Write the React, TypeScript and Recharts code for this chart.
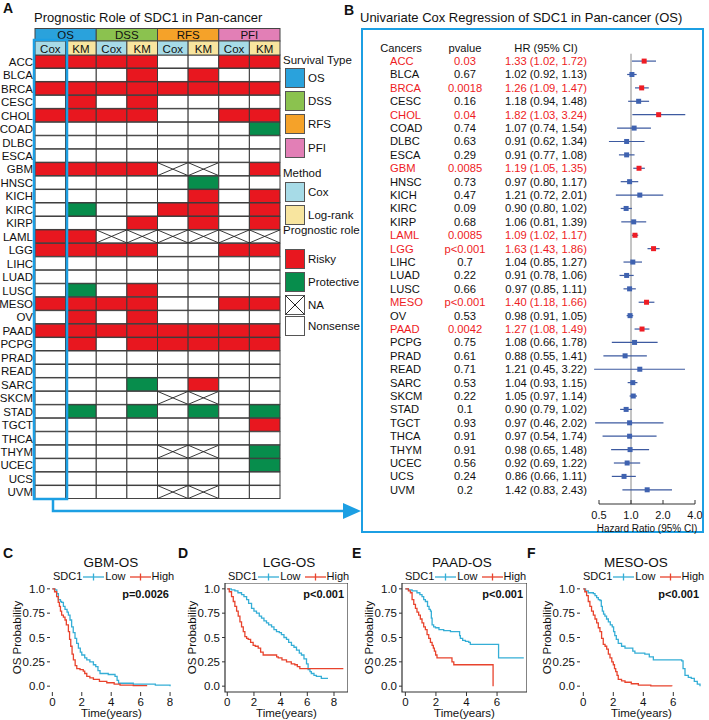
import React from "react";
import {
  BarChart,
  Bar,
  XAxis,
  YAxis,
  ScatterChart,
  Scatter,
  ErrorBar,
  ReferenceLine,
  LineChart,
  Line,
  ReferenceArea,
} from "recharts";

const FONT = '"Liberation Sans", Arial, Helvetica, sans-serif';
const RED = "#e8171f";
const GREEN = "#078d4c";
const BLUE_FRAME = "#1c9fe3";
const KM_LOW = "#35aed6";
const KM_HIGH = "#e8432d";

// ---------- Panel A: prognostic role heatmap ----------
const cancers = [
  "ACC", "BLCA", "BRCA", "CESC", "CHOL", "COAD", "DLBC", "ESCA", "GBM", "HNSC", "KICH",
  "KIRC", "KIRP", "LAML", "LGG", "LIHC", "LUAD", "LUSC", "MESO", "OV", "PAAD", "PCPG",
  "PRAD", "READ", "SARC", "SKCM", "STAD", "TGCT", "THCA", "THYM", "UCEC", "UCS", "UVM",
];
// column order: OS Cox, OS KM, DSS Cox, DSS KM, RFS Cox, RFS KM, PFI Cox, PFI KM
// R = risky, P = protective, N = NA, 0 = nonsense
const roles = [
  "RRRR00RR", "000R0R00", "RRRRRRRR", "0R0R0000", "RRRR00RR", "0000000P", "00000000",
  "00000000", "RRRRNN0R", "00000P00", "00000R0R", "0P00RR0R", "000R0R0R", "RRNNNNNN",
  "RRRR00RR", "00000000", "00000000", "0P0R0000", "RRRR00RR", "0R0R0000", "RRRRRRRR",
  "0R0RRRRR", "00000000", "00000000", "000P0R00", "0000NN00", "0P0P0P0P", "0000000R",
  "00000000", "0000NN0P", "0000000P", "00000000", "0000NN00",
];
const survivalTypes = ["OS", "DSS", "RFS", "PFI"];
const survivalColors = ["#2aa2dc", "#8bc24f", "#f5a229", "#e27fb6"];
const methods = ["Cox", "KM"];
const methodColors = ["#a7dbe7", "#f8e59f"];
const columnTicks = [0.5, 1.5, 2.5, 3.5, 4.5, 5.5, 6.5, 7.5];

// ---------- Panel B: univariate Cox (OS) ----------
const pvalues = [
  "0.03", "0.67", "0.0018", "0.16", "0.04", "0.74", "0.63", "0.29", "0.0085", "0.73", "0.47",
  "0.09", "0.68", "0.0085", "p<0.001", "0.7", "0.22", "0.66", "p<0.001", "0.53", "0.0042",
  "0.75", "0.61", "0.71", "0.53", "0.22", "0.1", "0.93", "0.91", "0.91", "0.56", "0.24", "0.2",
];
const hazard = [
  1.33, 1.02, 1.26, 1.18, 1.82, 1.07, 0.91, 0.91, 1.19, 0.97, 1.21, 0.9, 1.06, 1.09, 1.63,
  1.04, 0.91, 0.97, 1.4, 0.98, 1.27, 1.08, 0.88, 1.21, 1.04, 1.05, 0.9, 0.97, 0.97, 0.98,
  0.92, 0.86, 1.42,
];
const ciLow = [
  1.02, 0.92, 1.09, 0.94, 1.03, 0.74, 0.62, 0.77, 1.05, 0.8, 0.72, 0.8, 0.81, 1.02, 1.43,
  0.85, 0.78, 0.85, 1.18, 0.91, 1.08, 0.66, 0.55, 0.45, 0.93, 0.97, 0.79, 0.46, 0.54, 0.65,
  0.69, 0.66, 0.83,
];
const ciHigh = [
  1.72, 1.13, 1.47, 1.48, 3.24, 1.54, 1.34, 1.08, 1.35, 1.17, 2.01, 1.02, 1.39, 1.17, 1.86,
  1.27, 1.06, 1.11, 1.66, 1.05, 1.49, 1.78, 1.41, 3.22, 1.15, 1.14, 1.02, 2.02, 1.74, 1.48,
  1.22, 1.11, 2.43,
];
const hrTicks = [0.5, 1, 2, 4];

// ---------- Panels C-F: Kaplan-Meier curves [years, survival] ----------
const gbmLow = [[0,1],[0.18,0.99],[0.3,0.95],[0.41,0.89],[0.55,0.87],[0.63,0.86],[0.75,0.82],[0.86,0.79],[1.0,0.76],[1.09,0.73],[1.2,0.68],[1.31,0.61],[1.42,0.55],[1.54,0.49],[1.65,0.44],[1.77,0.39],[1.9,0.35],[2.0,0.32],[2.2,0.29],[2.34,0.27],[2.55,0.25],[2.79,0.22],[2.95,0.2],[3.1,0.16],[3.24,0.13],[3.8,0.12],[4.26,0.1],[4.4,0.06],[4.5,0.03],[5.5,0.02],[7,0.01],[8,0]];
const gbmHigh = [[0,1],[0.15,0.97],[0.29,0.92],[0.4,0.86],[0.48,0.82],[0.55,0.77],[0.63,0.73],[0.75,0.71],[0.86,0.68],[0.95,0.63],[1.09,0.56],[1.17,0.48],[1.25,0.41],[1.34,0.33],[1.43,0.27],[1.55,0.21],[1.66,0.18],[1.88,0.17],[2.1,0.155],[2.2,0.13],[2.34,0.1],[2.55,0.085],[2.79,0.07],[3.2,0.05],[3.7,0.035],[4.2,0.02],[4.6,0.01],[5.5,0.005],[6.4,0]];
const lggLow = [[0,1],[0.3,0.99],[0.57,0.98],[0.8,0.96],[1.07,0.94],[1.25,0.92],[1.45,0.89],[1.6,0.85],[1.82,0.8],[2.0,0.77],[2.19,0.75],[2.4,0.72],[2.57,0.7],[2.75,0.67],[2.94,0.65],[3.1,0.63],[3.32,0.61],[3.5,0.58],[3.69,0.56],[3.9,0.55],[4.06,0.53],[4.25,0.5],[4.44,0.48],[4.6,0.45],[4.81,0.42],[5.0,0.4],[5.19,0.37],[5.4,0.34],[5.56,0.32],[5.75,0.28],[5.94,0.23],[6.06,0.17],[6.2,0.15],[6.3,0.13],[6.5,0.11],[6.68,0.1],[7.05,0.08],[7.55,0.08]];
const lggHigh = [[0,1],[0.15,0.97],[0.32,0.92],[0.45,0.87],[0.57,0.82],[0.7,0.77],[0.82,0.72],[0.95,0.66],[1.07,0.61],[1.2,0.56],[1.32,0.51],[1.45,0.49],[1.57,0.48],[1.75,0.45],[1.94,0.42],[2.1,0.41],[2.32,0.39],[2.5,0.35],[2.69,0.32],[3.57,0.32],[3.7,0.3],[3.82,0.29],[4.1,0.27],[4.44,0.25],[4.8,0.23],[5.06,0.22],[5.25,0.2],[5.44,0.18],[8.7,0.18]];
const paadLow = [[0,1],[0.2,0.99],[0.44,0.98],[0.76,0.96],[0.95,0.94],[1.09,0.92],[1.2,0.89],[1.31,0.87],[1.45,0.82],[1.55,0.79],[1.64,0.77],[1.7,0.7],[1.75,0.63],[1.85,0.61],[1.97,0.6],[2.2,0.58],[2.51,0.57],[2.95,0.56],[3.49,0.56],[3.55,0.52],[3.6,0.49],[3.75,0.47],[3.93,0.46],[4.15,0.45],[4.25,0.43],[5.9,0.43],[6.1,0.29],[7.75,0.29]];
const paadHigh = [[0,1],[0.2,0.98],[0.33,0.96],[0.44,0.89],[0.55,0.84],[0.66,0.8],[0.76,0.76],[0.87,0.73],[0.98,0.69],[1.09,0.65],[1.2,0.61],[1.31,0.58],[1.42,0.53],[1.53,0.49],[1.64,0.45],[1.75,0.42],[1.83,0.39],[1.9,0.36],[1.98,0.32],[2.07,0.29],[2.95,0.29],[3.05,0.25],[3.17,0.22],[5.68,0.22],[5.74,0]];
const mesoLow = [[0,1],[0.15,0.98],[0.33,0.96],[0.67,0.95],[0.78,0.93],[0.89,0.91],[1.0,0.89],[1.11,0.88],[1.2,0.82],[1.27,0.77],[1.35,0.74],[1.44,0.72],[1.55,0.69],[1.67,0.66],[1.8,0.63],[1.93,0.61],[2.02,0.56],[2.1,0.52],[2.2,0.48],[2.33,0.44],[2.55,0.41],[2.78,0.39],[3.2,0.39],[3.3,0.36],[3.44,0.34],[4.1,0.33],[4.4,0.3],[4.67,0.27],[6.56,0.26],[6.65,0.18],[6.78,0.11],[7.0,0.09],[7.2,0.08],[7.4,0.05],[7.6,0.02],[7.78,0]];
const mesoHigh = [[0,1],[0.1,0.97],[0.22,0.93],[0.33,0.87],[0.44,0.82],[0.55,0.77],[0.67,0.73],[0.78,0.69],[0.89,0.65],[1.0,0.6],[1.11,0.56],[1.22,0.49],[1.33,0.43],[1.45,0.41],[1.56,0.38],[1.67,0.33],[1.78,0.29],[1.9,0.25],[2.0,0.22],[2.08,0.18],[2.16,0.15],[2.25,0.11],[2.33,0.07],[2.55,0.055],[2.78,0.04],[3.2,0.025],[3.67,0.01],[4.5,0.003],[5.9,0]];
const survTicks = [0, 0.25, 0.5, 0.75, 1];

const toPoints = (arr: number[][]) => arr.map(([t, s]) => ({ t, s }));
const isSignificant = (p: string) => p.startsWith("p<") || parseFloat(p) < 0.05;

// ---------- heatmap ----------
const HEAT_W = 245;
const CELL_W = HEAT_W / 8;
const heatData = cancers.map((c, i) => {
  const row: any = { cancer: c, role: roles[i] };
  columnTicks.forEach((_, j) => (row["c" + j] = 1));
  return row;
});

function HeatCell(props: any) {
  const { x, y, width, height, payload, col } = props;
  const r = payload.role[col];
  const fill = r === "R" ? RED : r === "P" ? GREEN : "#fff";
  return (
    <g>
      <rect x={x} y={y} width={width} height={height} fill={fill} stroke="#3b3b3b" strokeWidth={1} />
      {r === "N" && (
        <g stroke="#222" strokeWidth={0.9}>
          <line x1={x} y1={y} x2={x + width} y2={y + height} />
          <line x1={x} y1={y + height} x2={x + width} y2={y} />
        </g>
      )}
    </g>
  );
}

function HeaderTick(props: any) {
  const { x, payload } = props;
  const j = Math.floor(payload.value);
  const left = x - CELL_W / 2;
  const g = Math.floor(j / 2);
  return (
    <g fontFamily={FONT} fontSize={11.5}>
      {j % 2 === 0 && (
        <g>
          <rect x={left} y={0.5} width={CELL_W * 2} height={12.5} fill={survivalColors[g]} stroke="#444" />
          <text x={left + CELL_W} y={7} textAnchor="middle" dominantBaseline="central" fill="#111">
            {survivalTypes[g]}
          </text>
        </g>
      )}
      <rect x={left} y={13} width={CELL_W} height={14} fill={methodColors[j % 2]} stroke="#444" />
      <text x={x} y={20.5} textAnchor="middle" dominantBaseline="central" fill="#111">
        {methods[j % 2]}
      </text>
    </g>
  );
}

function Heatmap() {
  return (
    <div style={{ position: "absolute", left: 0, top: 28 }}>
      <BarChart
        width={35 + HEAT_W + 10}
        height={27 + 444}
        data={heatData}
        layout="vertical"
        barCategoryGap={0}
        barGap={0}
        margin={{ top: 0, right: 10, bottom: 0, left: 0 }}>
        <XAxis
          type="number"
          orientation="top"
          domain={[0, 8]}
          ticks={columnTicks}
          height={27}
          axisLine={false}
          tickLine={false}
          tick={<HeaderTick />}
          interval={0}
        />
        <YAxis
          type="category"
          dataKey="cancer"
          width={35}
          axisLine={false}
          tickLine={false}
          tickSize={0}
          tickMargin={2}
          interval={0}
          tick={{ fontSize: 11.5, fill: "#111", fontFamily: FONT }}
        />
        {columnTicks.map((_, j) => (
          <Bar
            key={j}
            dataKey={"c" + j}
            stackId="s"
            isAnimationActive={false}
            shape={(p: any) => <HeatCell {...p} col={j} />}
          />
        ))}
      </BarChart>
    </div>
  );
}

function LegendBox({ top, label, fill, na }: any) {
  return (
    <div style={{ position: "absolute", left: 285, top, height: 19, display: "flex", alignItems: "center" }}>
      <svg width={20} height={20} style={{ display: "block" }}>
        <rect x={0.5} y={0.5} width={19} height={19} fill={fill} stroke="#555" />
        {na && (
          <g stroke="#222">
            <line x1={0.5} y1={0.5} x2={19.5} y2={19.5} />
            <line x1={0.5} y1={19.5} x2={19.5} y2={0.5} />
          </g>
        )}
      </svg>
      <span style={{ marginLeft: 3, fontSize: 11.5 }}>{label}</span>
    </div>
  );
}

function LegendTitle({ top, text }: any) {
  return (
    <div style={{ position: "absolute", left: 283, top: top - 7, fontSize: 11.5, lineHeight: "14px" }}>{text}</div>
  );
}

// ---------- forest plot ----------
const forestData = cancers.map((c, i) => ({
  idx: i,
  hr: hazard[i],
  err: [hazard[i] - ciLow[i], ciHigh[i] - hazard[i]],
  sig: isSignificant(pvalues[i]),
}));
const forestTicks = [-1, ...cancers.map((_, i) => i)];

function ForestTick(props: any) {
  const { y, payload } = props;
  const i = payload.value;
  const fs = 11.2;
  if (i < 0) {
    return (
      <g fontFamily={FONT} fontSize={fs} fill="#111">
        <text x={36} y={y} dy="0.35em" textAnchor="middle">Cancers</text>
        <text x={100} y={y} dy="0.35em" textAnchor="middle">pvalue</text>
        <text x={181} y={y} dy="0.35em" textAnchor="middle">HR (95% CI)</text>
      </g>
    );
  }
  const color = isSignificant(pvalues[i]) ? "#ee1c24" : "#111";
  const hrText = `${hazard[i].toFixed(2)} (${ciLow[i].toFixed(2)}, ${ciHigh[i].toFixed(2)})`;
  return (
    <g fontFamily={FONT} fontSize={fs} fill={color}>
      <text x={25} y={y} dy="0.35em" textAnchor="start">{cancers[i]}</text>
      <text x={100} y={y} dy="0.35em" textAnchor="middle">{pvalues[i]}</text>
      <text x={181} y={y} dy="0.35em" textAnchor="middle">{hrText}</text>
    </g>
  );
}

function ForestPoint(props: any) {
  const { cx, cy, payload } = props;
  return <rect x={cx - 2.5} y={cy - 2.5} width={5} height={5} fill={payload.sig ? "#ee1c24" : "#3f62b0"} />;
}

function Forest() {
  return (
    <div style={{ position: "absolute", left: 365, top: 0 }}>
      <ScatterChart width={338} height={534} margin={{ top: 41, right: 8, bottom: 0, left: 0 }}>
        <XAxis
          type="number"
          dataKey="hr"
          scale="log"
          domain={[0.5, 4]}
          ticks={hrTicks}
          allowDataOverflow
          height={30}
          tickSize={-4}
          tickMargin={11}
          tickFormatter={(v: number) => v.toFixed(1)}
          stroke="#333"
          tick={{ fontSize: 11, fill: "#111", fontFamily: FONT }}
          label={{ value: "Hazard Ratio (95% CI)", position: "insideBottom", offset: 2, fontSize: 10, fill: "#111", fontFamily: FONT }}
        />
        <YAxis
          type="number"
          dataKey="idx"
          reversed
          domain={[-1.5, 33.06]}
          ticks={forestTicks}
          interval={0}
          width={234}
          axisLine={false}
          tickLine={false}
          tick={<ForestTick />}
        />
        <ReferenceLine
          segment={[{ x: 1, y: -0.55 }, { x: 1, y: 33.06 }]}
          stroke="#8a8a8a"
          strokeWidth={1}
        />
        <Scatter data={forestData} isAnimationActive={false} shape={<ForestPoint />}>
          <ErrorBar dataKey="err" direction="x" width={0} stroke="#3d5aa0" strokeWidth={1.2} />
        </Scatter>
      </ScatterChart>
    </div>
  );
}

// ---------- KM panels ----------
function LegendLine({ color }: any) {
  return (
    <svg width={21} height={10} style={{ display: "block", margin: "0 1px", flexShrink: 0 }}>
      <line x1={0} y1={5} x2={21} y2={5} stroke={color} strokeWidth={1.3} />
      <line x1={10.5} y1={1.5} x2={10.5} y2={8.5} stroke={color} strokeWidth={1.3} />
    </svg>
  );
}

function KMPanel({ left, right, domain, ticks, low, high, title, titleX, p, box }: any) {
  const W = 46;
  return (
    <>
      <div style={{ position: "absolute", left: titleX - 60, width: 120, top: 555, textAlign: "center", fontSize: 13.5, lineHeight: "15px" }}>
        {title}
      </div>
      <div style={{ position: "absolute", left: left + 3, top: 570, width: "max-content", fontSize: 11, lineHeight: "13px", display: "flex", alignItems: "center", whiteSpace: "nowrap" }}>
        <span>SDC1</span>
        <LegendLine color={KM_LOW} />
        <span>Low</span>
        <span style={{ width: 3 }} />
        <LegendLine color={KM_HIGH} />
        <span>High</span>
      </div>
      <div style={{ position: "absolute", left: left, width: right - left - 4, top: 588, textAlign: "right", fontSize: 11, fontWeight: "bold", lineHeight: "13px" }}>
        {p}
      </div>
      <div style={{ position: "absolute", left: left - W, top: 583 }}>
        <LineChart width={right - left + W} height={137} margin={{ top: 0, right: 0, bottom: 0, left: 0 }}>
          <XAxis
            type="number"
            dataKey="t"
            domain={domain}
            ticks={ticks}
            allowDataOverflow
            height={28}
            axisLine={false}
            tickSize={4}
            tickMargin={2}
            stroke="#333"
            tick={{ fontSize: 11.5, fill: "#111", fontFamily: FONT }}
            label={{ value: "Time(years)", position: "insideBottom", offset: 3, fontSize: 11.5, fill: "#111", fontFamily: FONT }}
          />
          <YAxis
            type="number"
            domain={[-0.06, 1.06]}
            ticks={survTicks}
            allowDataOverflow
            width={W}
            axisLine={false}
            tickSize={3}
            tickMargin={2}
            stroke="#333"
            tickFormatter={(v: number) => (v === 0 || v === 1 ? v.toFixed(1) : String(v))}
            tick={{ fontSize: 11.5, fill: "#111", fontFamily: FONT }}
            label={{ value: "OS Probability", angle: -90, position: "insideLeft", offset: 13, fontSize: 11.5, fill: "#111", fontFamily: FONT, style: { textAnchor: "middle" } }}
          />
          {box && (
            <ReferenceArea
              x1={domain[0]}
              x2={domain[1]}
              y1={-0.06}
              y2={1.06}
              fill="none"
              fillOpacity={0}
              stroke="#333"
              strokeWidth={1.2}
              ifOverflow="visible"
            />
          )}
          <Line data={toPoints(low)} dataKey="s" type="stepAfter" stroke={KM_LOW} strokeWidth={1.3} dot={false} isAnimationActive={false} />
          <Line data={toPoints(high)} dataKey="s" type="stepAfter" stroke={KM_HIGH} strokeWidth={1.3} dot={false} isAnimationActive={false} />
        </LineChart>
      </div>
    </>
  );
}

const panelLabel = (text: string, left: number, top: number) => (
  <div style={{ position: "absolute", left, top, fontSize: 14, fontWeight: "bold", lineHeight: "14px" }}>{text}</div>
);

export default function App() {
  return (
    <div style={{ position: "absolute", left: 0, top: 0, width: 709, height: 720, background: "#fff", fontFamily: FONT, color: "#111", overflow: "hidden" }}>
      {panelLabel("A", 3, 1)}
      {panelLabel("B", 344, 3)}
      {panelLabel("C", 3, 546)}
      {panelLabel("D", 178, 546)}
      {panelLabel("E", 352, 546)}
      {panelLabel("F", 527, 546)}

      <div style={{ position: "absolute", left: 34, top: 10, fontSize: 13, lineHeight: "15px", whiteSpace: "nowrap" }}>
        Prognostic Role of SDC1 in Pan-cancer
      </div>
      <Heatmap />

      <LegendTitle top={60} text="Survival Type" />
      {survivalTypes.map((s, i) => (
        <LegendBox key={s} top={[68, 91, 114, 138][i]} label={s} fill={survivalColors[i]} />
      ))}
      <LegendTitle top={173} text="Method" />
      <LegendBox top={182} label="Cox" fill={methodColors[0]} />
      <LegendBox top={205} label="Log-rank" fill={methodColors[1]} />
      <LegendTitle top={230} text="Prognostic role" />
      <LegendBox top={249} label="Risky" fill={RED} />
      <LegendBox top={272} label="Protective" fill={GREEN} />
      <LegendBox top={295} label="NA" fill="#fff" na />
      <LegendBox top={316} label="Nonsense" fill="#fff" />

      <div style={{ position: "absolute", left: 360, top: 10, fontSize: 13, lineHeight: "15px", whiteSpace: "nowrap" }}>
        Univariate Cox Regression of SDC1 in Pan-cancer (OS)
      </div>
      <div style={{ position: "absolute", left: 361, top: 28, width: 343, height: 505, border: `2.5px solid ${BLUE_FRAME}`, boxSizing: "border-box" }} />
      <Forest />

      <svg width={709} height={720} style={{ position: "absolute", left: 0, top: 0, pointerEvents: "none" }}>
        <rect x={34} y={40} width={33} height={459} fill="none" stroke={BLUE_FRAME} strokeWidth={2.5} />
        <polyline points="53,499 53,511 346,511" fill="none" stroke={BLUE_FRAME} strokeWidth={2.5} />
        <polygon points="343,503 361,511 343,519" fill={BLUE_FRAME} />
      </svg>

      <KMPanel left={50} right={173} domain={[-0.16, 8.2]} ticks={[0, 2, 4, 6, 8]} low={gbmLow} high={gbmHigh} title="GBM-OS" titleX={111} p="p=0.0026" box={false} />
      <KMPanel left={225} right={348} domain={[-0.17, 9.05]} ticks={[0, 2, 4, 6, 8]} low={lggLow} high={lggHigh} title="LGG-OS" titleX={289} p="p<0.001" box />
      <KMPanel left={402} right={527} domain={[-0.22, 7.96]} ticks={[0, 2, 4, 6]} low={paadLow} high={paadHigh} title="PAAD-OS" titleX={462} p="p<0.001" box />
      <KMPanel left={580} right={703} domain={[-0.22, 7.98]} ticks={[0, 2, 4, 6]} low={mesoLow} high={mesoHigh} title="MESO-OS" titleX={636} p="p<0.001" box={false} />
    </div>
  );
}
